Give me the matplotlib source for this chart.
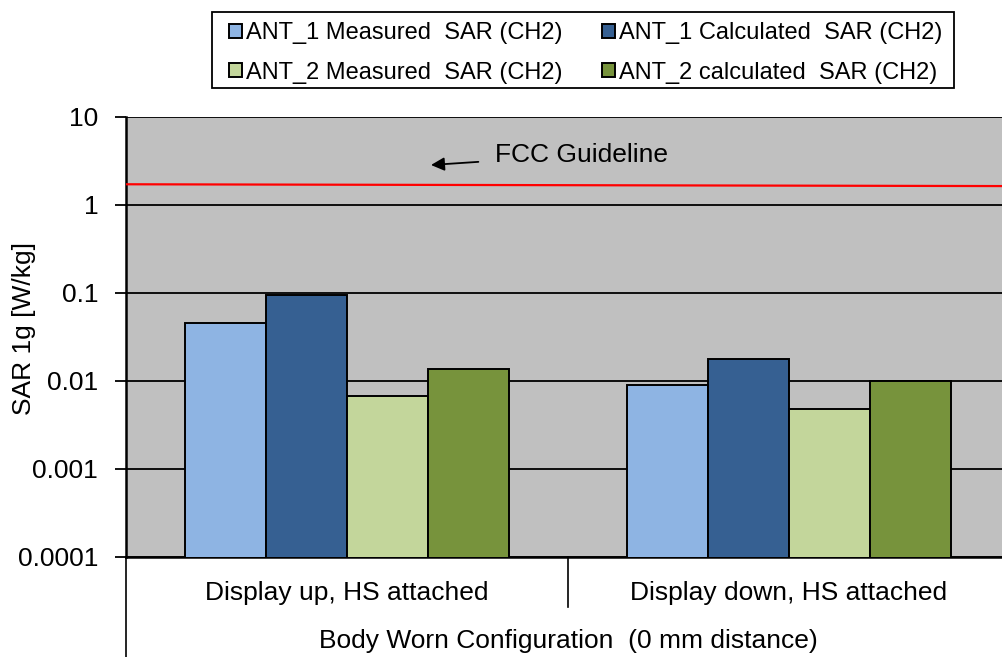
import numpy as np
import matplotlib
matplotlib.use("Agg")
import matplotlib.pyplot as plt
from matplotlib.lines import Line2D
from matplotlib.patches import Rectangle

plt.rcParams['font.family'] = ['Liberation Sans', 'DejaVu Sans']

# data
categories = ["Display up, HS attached", "Display down, HS attached"]
group_title = "Body Worn Configuration  (0 mm distance)"
series = [
    "ANT_1 Measured  SAR (CH2)",
    "ANT_1 Calculated  SAR (CH2)",
    "ANT_2 Measured  SAR (CH2)",
    "ANT_2 calculated  SAR (CH2)",
]
ant1_measured = [0.0456, 0.0091]
ant1_calculated = [0.094, 0.0177]
ant2_measured = [0.0067, 0.0048]
ant2_calculated = [0.0138, 0.0100]
fcc_limit = [1.72, 1.64]   # red line, left end / right end
y_ticks = [0.0001, 0.001, 0.01, 0.1, 1, 10]
y_tick_labels = ["0.0001", "0.001", "0.01", "0.1", "1", "10"]

colors = ["#8EB4E3", "#366092", "#C3D69B", "#77933C"]
FS = 19

fig = plt.figure(figsize=(10.02, 6.57), dpi=100)
ax = fig.add_axes([126 / 1002, 100 / 657, 884 / 1002, 440 / 657])
ax.set_facecolor("#C0C0C0")

x = np.arange(len(categories))
w = 0.183
vals = [ant1_measured, ant1_calculated, ant2_measured, ant2_calculated]
for i, v in enumerate(vals):
    ax.bar(x + (i - 1.5) * w, v, w, color=colors[i], edgecolor="black",
           linewidth=1.4, label=series[i], zorder=3)

ax.plot([-0.5, 1.5], fcc_limit, color="red", lw=1.6, zorder=4)

ax.set_yscale("log")
ax.set_ylim(0.0001, 10)
ax.set_xlim(-0.5, 1.5)
ax.set_yticks(y_ticks)
ax.set_yticklabels(y_tick_labels)
ax.yaxis.set_minor_locator(matplotlib.ticker.NullLocator())
ax.grid(axis="y", color="black", lw=1.3, zorder=1)
ax.tick_params(axis="y", labelsize=FS, length=8, width=1.3, pad=12, direction="out")
ax.set_xticks([])
ax.set_ylabel("SAR 1g [W/kg]", fontsize=FS)
ax.yaxis.set_label_coords(-90 / 884, 0.52)

for s in ["top", "right"]:
    ax.spines[s].set_visible(False)
ax.spines["left"].set_linewidth(1.8)
ax.spines["bottom"].set_linewidth(1.8)

# multi-level category axis
ax.add_line(Line2D([0, 0], [0, -100 / 440], transform=ax.transAxes,
                   color="black", lw=1.2, clip_on=False))
ax.add_line(Line2D([0.5, 0.5], [0, -50 / 440], transform=ax.transAxes,
                   color="black", lw=1.2, clip_on=False))
for xi, lab in zip(x, categories):
    ax.text(xi, -36 / 440, lab, transform=ax.get_xaxis_transform(),
            ha="center", va="center", fontsize=FS)
ax.text(0.5, -84 / 440, group_title, transform=ax.transAxes,
        ha="center", va="center", fontsize=FS)

# FCC annotation
ax.annotate("FCC Guideline", xy=(431 / 1002, 1 - 165 / 657), xycoords="figure fraction",
            xytext=(495 / 1002, 1 - 155 / 657), textcoords="figure fraction",
            fontsize=FS, va="center", ha="left",
            arrowprops=dict(arrowstyle="-|>", color="black", lw=1.3,
                            mutation_scale=20, shrinkA=10, shrinkB=0))

# legend (frame drawn separately)
handles, labels = ax.get_legend_handles_labels()
order = [0, 2, 1, 3]
leg = fig.legend([handles[i] for i in order], [labels[i] for i in order],
                 ncol=2, loc="upper left",
                 bbox_to_anchor=(229 / 1002, 1 - 22 / 657),
                 fontsize=17, frameon=False,
                 handlelength=0.55, handleheight=0.55, handletextpad=0.17,
                 columnspacing=1.68, labelspacing=0.75, borderpad=0,
                 borderaxespad=0)
fig.patches.append(Rectangle((212 / 1002, 1 - 88 / 657), 742 / 1002, 76 / 657,
                             transform=fig.transFigure, fill=False,
                             edgecolor="black", lw=1.3))

fig.savefig("out.png", dpi=100)
